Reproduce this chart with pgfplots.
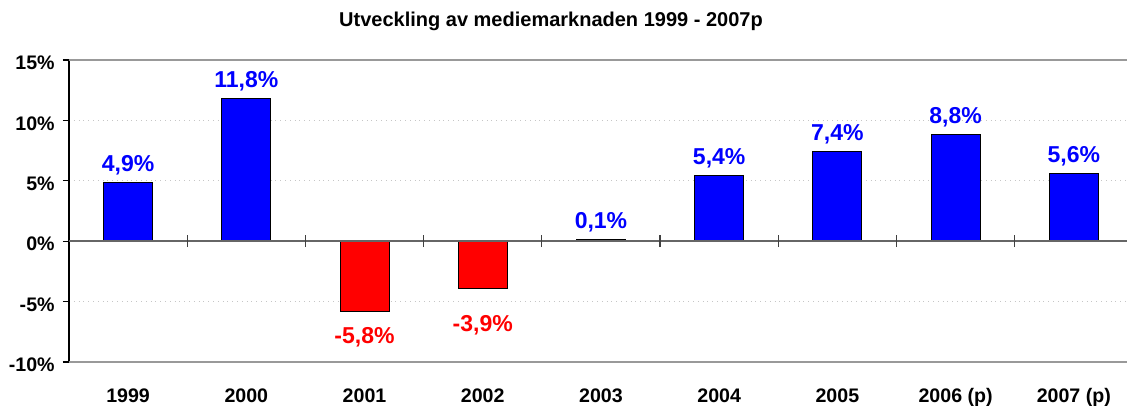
\documentclass[border=0pt]{standalone}
\usepackage{pgfplots}
\pgfplotsset{compat=1.18}
\usepackage{fontspec}
\setmainfont{Liberation Sans}
\definecolor{pblue}{RGB}{0,0,255}
\definecolor{pred}{RGB}{255,0,0}
\begin{document}
\begin{tikzpicture}
\begin{axis}[
  at={(0,0)}, anchor=south west,
  scale only axis, width=529pt, height=151pt,
  xmin=-0.5, xmax=8.45, ymin=-10, ymax=15,
  axis lines=left,
  x axis line style={draw=none},
  y axis line style={draw=black, line width=0.6pt, -},
  xtick={0,...,8},
  xticklabels={1999,2000,2001,2002,2003,2004,2005,2006 (p),2007 (p)},
  x tick style={draw=none},
  xticklabel style={font=\fontsize{9.8}{11}\selectfont\bfseries, anchor=north, inner sep=0pt, yshift=-10pt},
  ytick={-10,-5,0,5,10,15},
  yticklabels={-10\%,-5\%,0\%,5\%,10\%,15\%},
  yticklabel style={font=\fontsize{9.8}{11}\selectfont\bfseries, anchor=east, inner sep=0pt, xshift=-4pt, yshift=-1.5pt},
  y tick style={draw=black, line width=0.6pt},
  tick align=outside, major tick length=3pt,
  ymajorgrids,
  major grid style={draw=gray!45, dotted, line width=0.5pt},
  extra y ticks={-10,15},
  extra y tick labels={},
  extra y tick style={grid=major, major grid style={draw=gray!80, solid, line width=0.6pt}, tick style={draw=none}},
  ybar, bar width=24.5pt, bar shift=0pt,
  point meta=explicit symbolic,
  nodes near coords={\pgfplotspointmeta},
  clip=false,
]
\addplot[fill=pblue, draw=black, line width=0.5pt,
  every node near coord/.style={font=\fontsize{11.5}{12}\selectfont\bfseries, text=pblue, anchor=base, inner sep=0pt, yshift=5.5pt}]
  coordinates {(0,4.9) [4,9\%] (1,11.8) [11,8\%] (4,0.1) [0,1\%] (5,5.4) [5,4\%] (6,7.4) [7,4\%] (7,8.8) [8,8\%] (8,5.6) [5,6\%]};
\addplot[fill=pred, draw=black, line width=0.5pt,
  every node near coord/.style={font=\fontsize{11.5}{12}\selectfont\bfseries, text=pred, anchor=north, inner sep=0pt, yshift=-8pt}]
  coordinates {(2,-5.8) [-5,8\%]};
\addplot[fill=pred, draw=black, line width=0.5pt,
  every node near coord/.style={font=\fontsize{11.5}{12}\selectfont\bfseries, text=pred, anchor=north, inner sep=0pt, yshift=-13.5pt}]
  coordinates {(3,-3.9) [-3,9\%]};
\draw[black!60, line width=0.7pt] (axis cs:-0.5,0) -- (axis cs:8.45,0);
\pgfplotsinvokeforeach{0.5,1.5,2.5,3.5,4.5,5.5,6.5,7.5}{
  \draw[black!75, line width=0.6pt] ([yshift=-3pt]axis cs:#1,0) -- ([yshift=3pt]axis cs:#1,0);
}
\end{axis}
\node[anchor=base, font=\fontsize{10}{12}\selectfont\bfseries] at (241pt,167.5pt) {Utveckling av mediemarknaden 1999 - 2007p};
\pgfresetboundingbox
\path[use as bounding box] (-34.5pt,-22pt) rectangle (529.5pt,181pt);
\end{tikzpicture}
\end{document}
